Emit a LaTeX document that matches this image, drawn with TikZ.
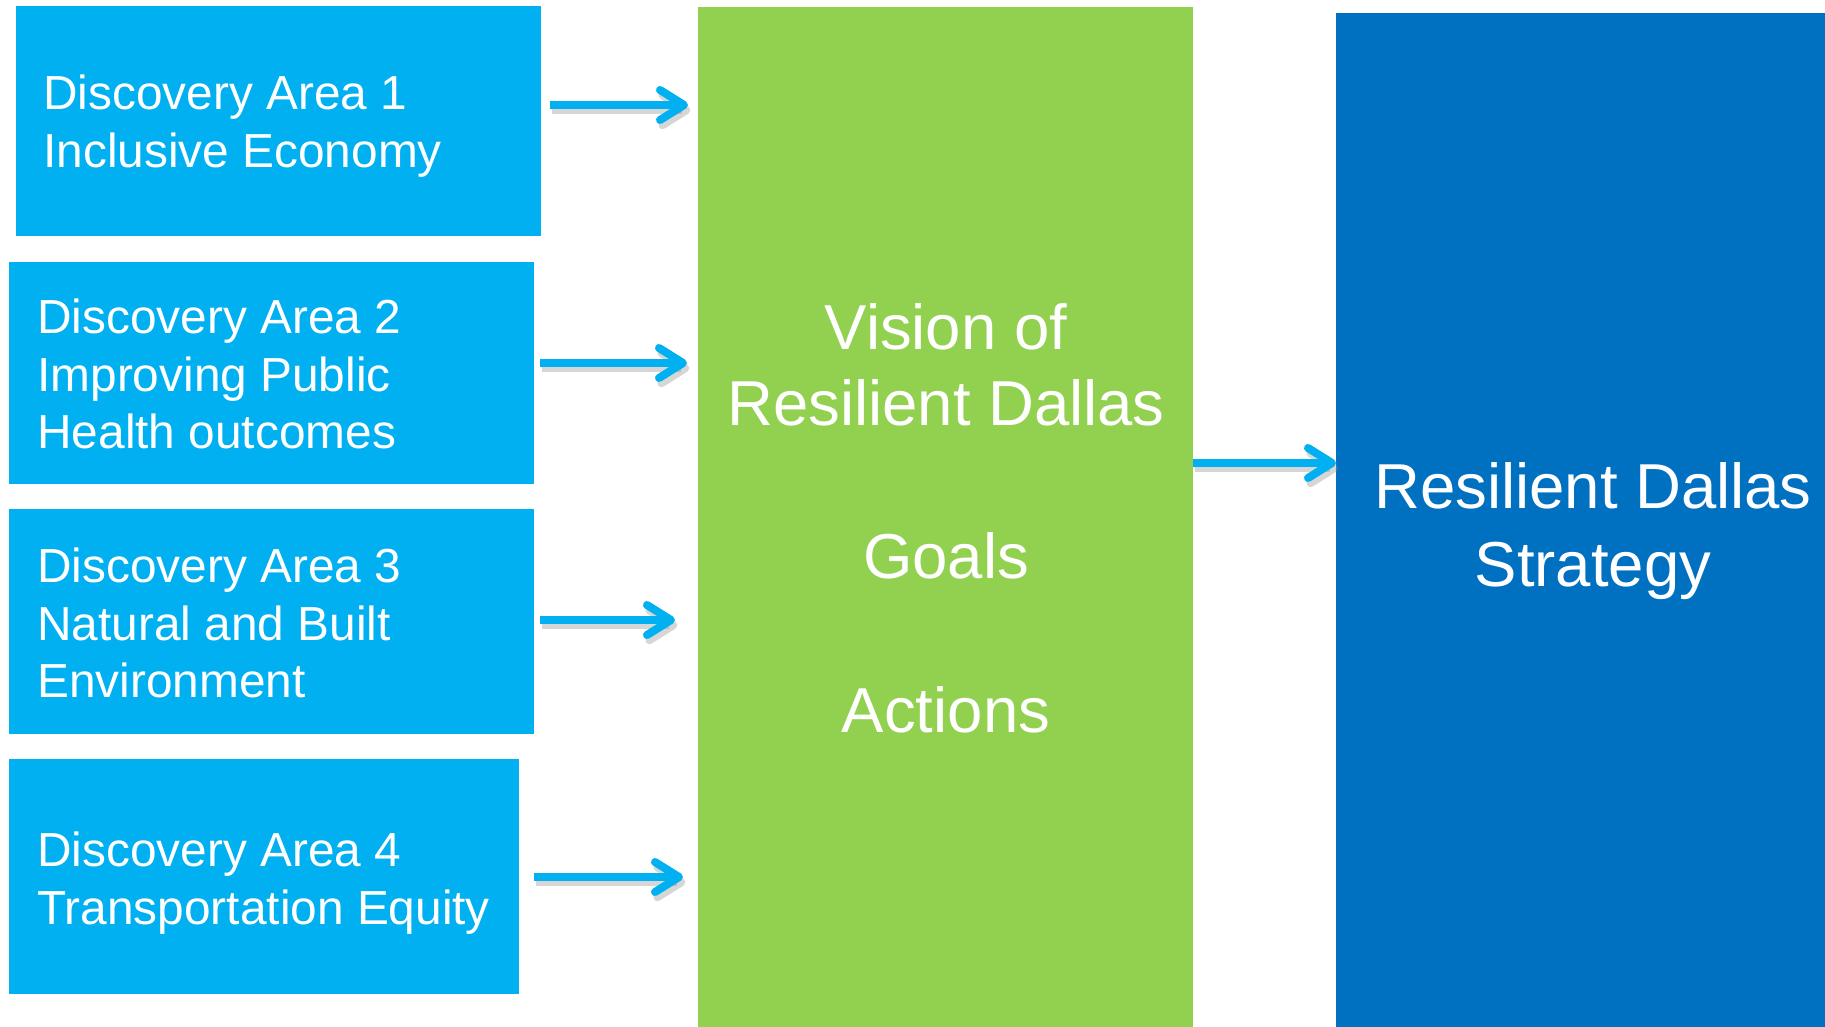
\documentclass[tikz,border=0pt]{standalone}
\usepackage{fontspec}
\setmainfont{Liberation Sans}
\usetikzlibrary{arrows.meta}
\definecolor{lblue}{HTML}{00B0F0}
\definecolor{lgreen}{HTML}{92D050}
\definecolor{dblue}{HTML}{0070C0}
\begin{document}
\begin{tikzpicture}[x=0.5pt,y=-0.5pt,
  box/.style={draw=none, inner sep=0pt, outer sep=0pt, anchor=north west},
  txt/.style={text=white, inner sep=0pt, anchor=base west, font=\fontsize{23.9pt}{29pt}\selectfont},
  bigtxt/.style={text=white, inner sep=0pt, anchor=base, font=\fontsize{31.75pt}{38pt}\selectfont},
  arr/.style={draw=lblue, line width=4pt, line cap=butt, -{Straight Barb[length=12pt,width=15pt,round]}},
  arrsh/.style={draw=black!45, opacity=0.35, line width=4pt, line cap=butt, -{Straight Barb[length=12pt,width=15pt,round]},
    transform canvas={shift={(1.2pt,-2.6pt)}}}
]
\useasboundingbox (0,0) rectangle (1825,1027);
\fill[white] (0,0) rectangle (1825,1027);

% boxes
\node[box, fill=lblue, minimum width=262.5pt, minimum height=115pt] (b1) at (16,6) {};
\node[box, fill=lblue, minimum width=262.5pt, minimum height=111pt] (b2) at (9,262) {};
\node[box, fill=lblue, minimum width=262.5pt, minimum height=112.5pt] (b3) at (9,509) {};
\node[box, fill=lblue, minimum width=255pt, minimum height=117.5pt] (b4) at (9,759) {};
\node[box, fill=lgreen, minimum width=247.5pt, minimum height=510pt] (g) at (698,7) {};
\node[box, fill=dblue, minimum width=244.5pt, minimum height=507pt] (d) at (1336,13) {};

% box texts
\node[txt] (t1a) at (43,110) {Discovery Area 1};
\node[txt] (t1b) at (43,168) {Inclusive Economy};
\node[txt] (t2a) at (37,333) {Discovery Area 2};
\node[txt] (t2b) at (37,391) {Improving Public};
\node[txt] (t2c) at (37,448) {Health outcomes};
\node[txt] (t3a) at (37,582) {Discovery Area 3};
\node[txt] (t3b) at (37,640) {Natural and Built};
\node[txt] (t3c) at (37,697) {Environment};
\node[txt] (t4a) at (37,866) {Discovery Area 4};
\node[txt] (t4b) at (37,924) {Transportation Equity};

% green texts
\node[bigtxt] (ga) at (946,349) {Vision of};
\node[bigtxt] (gb) at (946,425) {Resilient Dallas};
\node[bigtxt] (gc) at (946,578) {Goals};
\node[bigtxt] (gd) at (946,732) {Actions};

% right texts
\node[bigtxt] (da) at (1593,508) {Resilient Dallas};
\node[bigtxt] (db) at (1593,586) {Strategy};

% arrows (shadow then arrow)
\foreach \s in {arrsh,arr}{
  \draw[\s, shorten <=4.5pt, shorten >=5pt] (b1.east |- 0,105) -- (g.west |- 0,105);
  \draw[\s, shorten <=3pt, shorten >=5.5pt] (b2.east |- 0,363) -- (g.west |- 0,363);
  \draw[\s, shorten <=3pt, shorten >=11.5pt] (b3.east |- 0,620) -- (g.west |- 0,620);
  \draw[\s, shorten <=7.5pt, shorten >=7.5pt] (b4.east |- 0,877) -- (g.west |- 0,877);
  \draw[\s] (g.east |- 0,463) -- (d.west |- 0,463);
}
\end{tikzpicture}
\end{document}
